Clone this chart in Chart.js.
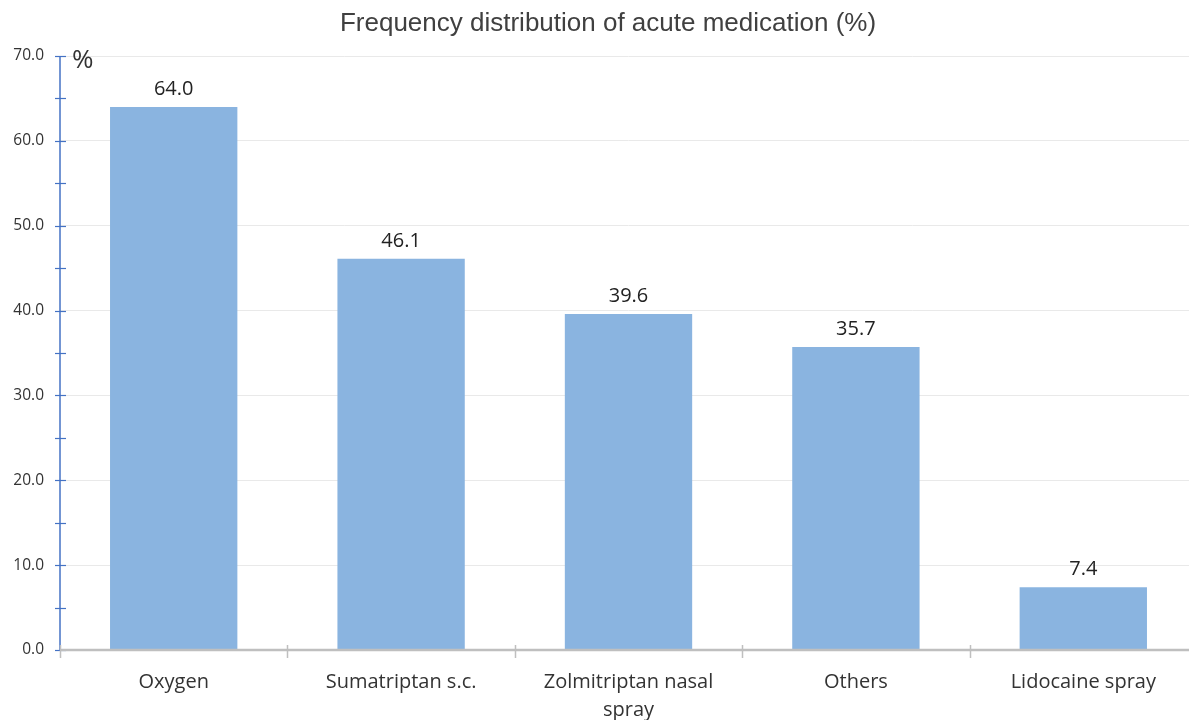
<!DOCTYPE html>
<html>
<head>
<meta charset="utf-8">
<script src="https://cdn.jsdelivr.net/npm/chart.js@4"></script>
<style>
  html, body { margin: 0; padding: 0; background: #ffffff; overflow: hidden; }
  #wrap { width: 1200px; height: 720px; }
</style>
</head>
<body>
<div id="wrap"><canvas id="c" width="1200" height="720"></canvas></div>
<script>
// Acute medication usage shares (%)
const categories = ['Oxygen', 'Sumatriptan s.c.', ['Zolmitriptan nasal', 'spray'], 'Others', 'Lidocaine spray'];
const percentages = [64.0, 46.1, 39.6, 35.7, 7.4];
const yMin = 0;
const yMax = 70;
const majorStep = 10;
const minorStep = 5;
const chartTitle = 'Frequency distribution of acute medication (%)';
const unitLabel = '%';

const BAR_COLOR = '#8AB4E0';
const AXIS_BLUE = '#4472C4';
const AXIS_GRAY = '#BFBFBF';
const GRID_COLOR = '#E9E9E9';
const TEXT_DARK = '#333333';
const BODY_FONT = '"Open Sans", "Noto Sans", sans-serif';

const decorations = {
  id: 'decorations',
  afterDraw(chart) {
    const ctx = chart.ctx;
    const area = chart.chartArea;
    const y = chart.scales.y;
    ctx.save();

    // value axis line with major and minor ticks
    ctx.strokeStyle = AXIS_BLUE;
    ctx.lineWidth = 1.5;
    ctx.beginPath();
    ctx.moveTo(area.left, y.getPixelForValue(yMax));
    ctx.lineTo(area.left, y.getPixelForValue(yMin));
    ctx.stroke();
    ctx.lineWidth = 1.2;
    for (let v = yMin; v <= yMax; v += minorStep) {
      const py = Math.round(y.getPixelForValue(v)) + 0.5;
      ctx.beginPath();
      ctx.moveTo(area.left - 5, py);
      ctx.lineTo(area.left + 6, py);
      ctx.stroke();
    }

    // category axis line with boundary ticks
    ctx.strokeStyle = AXIS_GRAY;
    ctx.lineWidth = 2.5;
    ctx.beginPath();
    ctx.moveTo(area.left, area.bottom);
    ctx.lineTo(area.right + 10, area.bottom);
    ctx.stroke();
    ctx.lineWidth = 1.5;
    const n = categories.length;
    const w = (area.right - area.left) / n;
    for (let i = 0; i <= n; i++) {
      const px = Math.round(area.left + i * w) + 0.5;
      ctx.beginPath();
      ctx.moveTo(px, area.bottom - 5);
      ctx.lineTo(px, area.bottom + 8);
      ctx.stroke();
    }

    // value labels above bars
    const meta = chart.getDatasetMeta(0);
    ctx.fillStyle = '#222222';
    ctx.font = '20px ' + BODY_FONT;
    ctx.textAlign = 'center';
    ctx.textBaseline = 'bottom';
    meta.data.forEach((bar, i) => {
      ctx.fillText(percentages[i].toFixed(1), bar.x, bar.y - 8);
    });

    // unit marker next to the axis top
    ctx.fillStyle = TEXT_DARK;
    ctx.font = '26px ' + BODY_FONT;
    ctx.textAlign = 'left';
    ctx.textBaseline = 'alphabetic';
    ctx.fillText(unitLabel, area.left + 12, 68);

    // title
    ctx.fillStyle = '#404040';
    ctx.font = '26px "Liberation Sans", Arial, sans-serif';
    ctx.textAlign = 'center';
    ctx.textBaseline = 'middle';
    ctx.fillText(chartTitle, 608, 24);

    ctx.restore();
  }
};

new Chart(document.getElementById('c'), {
  type: 'bar',
  data: {
    labels: categories,
    datasets: [{
      data: percentages,
      backgroundColor: BAR_COLOR,
      borderWidth: 0,
      barPercentage: 0.56,
      categoryPercentage: 1.0
    }]
  },
  options: {
    responsive: false,
    animation: false,
    layout: { padding: { top: 56, right: 3, left: 0, bottom: 0 } },
    plugins: {
      legend: { display: false },
      title: { display: false },
      tooltip: { enabled: false }
    },
    scales: {
      x: {
        border: { display: false },
        grid: { display: false, drawTicks: false },
        ticks: {
          color: TEXT_DARK,
          padding: 18,
          maxRotation: 0,
          autoSkip: false,
          font: { family: BODY_FONT, size: 20, lineHeight: 1.4 }
        },
        afterFit(scale) { scale.height = 70; }
      },
      y: {
        min: yMin,
        max: yMax,
        border: { display: false },
        grid: {
          drawTicks: false,
          color: (c) => (c.tick && c.tick.value % majorStep === 0 && c.tick.value !== yMin) ? GRID_COLOR : 'rgba(0,0,0,0)',
          lineWidth: 1
        },
        ticks: {
          stepSize: minorStep,
          color: TEXT_DARK,
          padding: 16,
          font: { family: BODY_FONT, size: 15.5 },
          callback: (v) => (v % majorStep === 0 ? Number(v).toFixed(1) : '')
        },
        afterFit(scale) { scale.width = 60; }
      }
    }
  },
  plugins: [decorations]
});
</script>
</body>
</html>
